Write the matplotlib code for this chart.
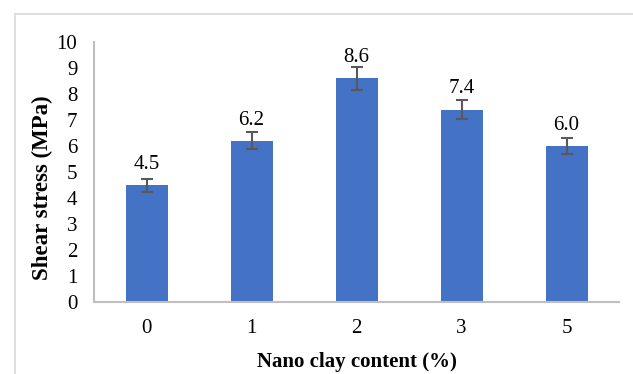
import matplotlib

matplotlib.use("Agg")
import matplotlib.pyplot as plt
from matplotlib.lines import Line2D

plt.rcParams.update({
    "font.family": ["Liberation Serif", "DejaVu Serif"],
    "font.size": 15,
})

BAR = "#4472C4"
ERR = "#595959"
AXIS = "#BFBFBF"

content = ["0", "1", "2", "3", "5"]
stress = [4.5, 6.2, 8.6, 7.4, 6.0]
stress_err = [0.25, 0.32, 0.45, 0.38, 0.30]

fig = plt.figure(figsize=(6.33, 3.74), dpi=100)
W, H = 633, 374
ax = fig.add_axes([94 / W, 1 - 302 / H, (619 - 94) / W, (302 - 42) / H])

x = range(len(content))
ax.bar(x, stress, width=0.40, color=BAR, zorder=2)
ax.errorbar(x, stress, yerr=stress_err, fmt="none", ecolor=ERR,
            elinewidth=1.5, capsize=4.5, capthick=1.5, zorder=3)
# data labels sit a fixed distance above the bar top (Excel style)
for xi, v in zip(x, stress):
    ax.text(xi, v + 0.62, f"{v:.1f}", ha="center", va="baseline")

ax.set_xlim(-0.5, len(content) - 0.5)
ax.set_ylim(0, 10)
ax.set_yticks(range(0, 11))
ax.set_xticks(list(x))
ax.set_xticklabels(content)
ax.tick_params(length=0)
ax.tick_params(axis="y", pad=12)
ax.tick_params(axis="x", pad=12)
for side in ("top", "right"):
    ax.spines[side].set_visible(False)
for side in ("left", "bottom"):
    ax.spines[side].set_color(AXIS)
    ax.spines[side].set_linewidth(1.5)

ax.set_xlabel("Nano clay content (%)", fontweight="bold", labelpad=10)
ax.set_ylabel("Shear stress (MPa)", fontweight="bold", fontsize=16.5)
ax.yaxis.set_label_coords(-0.078, 0.44)

# outer frame of the original chart area
fig.add_artist(Line2D([15 / W, 15 / W], [0, 1 - 14 / H], transform=fig.transFigure,
                      color="#D9D9D9", lw=1.2))
fig.add_artist(Line2D([15 / W, 1], [1 - 14 / H, 1 - 14 / H], transform=fig.transFigure,
                      color="#D9D9D9", lw=1.2))

fig.savefig("out.png", dpi=100)
